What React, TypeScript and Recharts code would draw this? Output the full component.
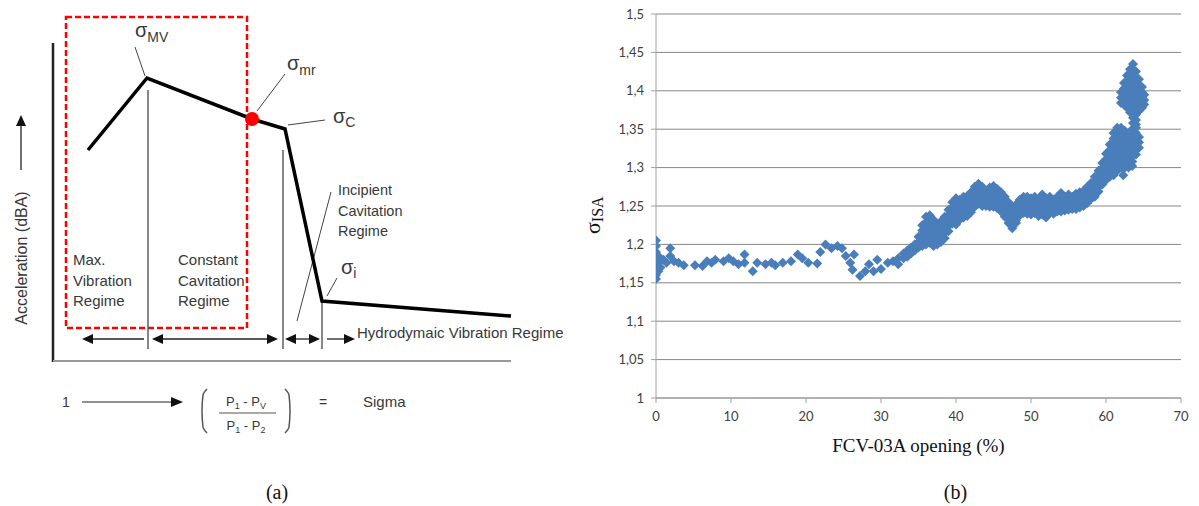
import React from 'react';
import {
  ComposedChart,
  Line,
  Scatter,
  ScatterChart,
  XAxis,
  YAxis,
  CartesianGrid,
  ReferenceLine,
  ReferenceArea,
  ReferenceDot,
} from 'recharts';

const SANS = '"Liberation Sans", Arial, sans-serif';
const SERIF = '"Liberation Serif", "Times New Roman", serif';
const TEXT = '#383838';

// ---------------- (a) schematic, in drawing units (y grows downward)
const accelCurve = [
  { x: 88, y: 150 },
  { x: 147, y: 78 },
  { x: 252, y: 119 },
  { x: 285, y: 129 },
  { x: 322, y: 301 },
  { x: 511, y: 316 },
];
const sigmaMrPoint = [{ x: 252, y: 119 }];
const regimeDividers = [
  { x: 148, top: 90 },
  { x: 283, top: 150 },
  { x: 322, top: 302 },
];
const regimeSpans = [
  { from: 82, to: 146, start: true, end: false },
  { from: 152, to: 278, start: true, end: true },
  { from: 285, to: 320, start: true, end: true },
  { from: 325, to: 355, start: false, end: true },
];
const leftBracket = [
  { x: 207, y: 389 }, { x: 203, y: 395 }, { x: 202, y: 411 }, { x: 203, y: 427 }, { x: 207, y: 433 },
];
const rightBracket = [
  { x: 285, y: 389 }, { x: 289, y: 395 }, { x: 290, y: 411 }, { x: 289, y: 427 }, { x: 285, y: 433 },
];

const SPAN_Y = 339;
const regimeHeads = regimeSpans.flatMap((s) => [
  ...(s.start ? [{ x: s.from, y: SPAN_Y, dir: 'left' }] : []),
  ...(s.end ? [{ x: s.to, y: SPAN_Y, dir: 'right' }] : []),
]);

// ---------------- (b) sigma_ISA vs FCV-03A opening (%), [opening, sigma values]
const openStart: [number, number[]][] = [
  [0, [1.205, 1.198, 1.19, 1.182, 1.175, 1.168, 1.16, 1.155]],
  [0.3, [1.185, 1.165]],
  [0.6, [1.178, 1.17]],
  [1.0, [1.18]],
  [1.4, [1.176]],
  [1.9, [1.195, 1.185]],
  [2.4, [1.178]],
  [3.0, [1.176]],
  [3.7, [1.173]],
];
const openLow: [number, number[]][] = [
  [5.2, [1.173]], [6.2, [1.172]], [6.8, [1.178]], [7.4, [1.176]], [7.9, [1.18]],
  [9.0, [1.178]], [9.7, [1.182]], [10.3, [1.178]], [11.0, [1.174]], [11.8, [1.187, 1.176]],
  [12.9, [1.165]], [13.5, [1.176]], [14.6, [1.174]], [15.4, [1.176]], [15.9, [1.173]],
  [16.9, [1.176]], [18.0, [1.178]], [18.9, [1.187]], [19.5, [1.182]], [20.3, [1.176]],
  [21.5, [1.175]], [21.9, [1.19]], [22.6, [1.2]], [23.4, [1.195]], [24.2, [1.198]],
  [24.8, [1.195]], [25.3, [1.185]], [25.9, [1.176]], [26.4, [1.187]], [26.2, [1.167]],
  [27.2, [1.159]], [27.9, [1.165]], [28.4, [1.174]], [29.0, [1.165]], [29.5, [1.18]],
  [30.0, [1.168]], [30.9, [1.176]],
];
const openRise: [number, number[]][] = [
  [31.6, [1.178]], [32.3, [1.182, 1.174]], [33.0, [1.188, 1.182]], [33.5, [1.192, 1.184]],
  [34.0, [1.196, 1.188]], [34.5, [1.2, 1.192]], [35.0, [1.21, 1.203, 1.196]],
  [35.5, [1.225, 1.218, 1.211, 1.204, 1.198]],
  [36.0, [1.236, 1.229, 1.222, 1.215, 1.208, 1.2]],
  [36.5, [1.238, 1.231, 1.224, 1.217, 1.21, 1.202]],
  [37.0, [1.232, 1.225, 1.218, 1.211, 1.204, 1.198]],
  [37.5, [1.226, 1.219, 1.212, 1.205, 1.2]],
  [38.0, [1.23, 1.223, 1.216, 1.209, 1.203]],
  [38.5, [1.236, 1.229, 1.222, 1.215, 1.208]],
  [39.0, [1.245, 1.238, 1.231, 1.224, 1.217]],
  [39.5, [1.255, 1.248, 1.241, 1.234, 1.227]],
];
const openPlateau: [number, number[]][] = [
  [40.0, [1.26, 1.253, 1.246, 1.239, 1.232, 1.226]],
  [40.5, [1.258, 1.251, 1.244, 1.237, 1.232]],
  [41.0, [1.262, 1.255, 1.248, 1.241, 1.235]],
  [41.5, [1.263, 1.256, 1.249, 1.242, 1.237]],
  [42.0, [1.268, 1.261, 1.254, 1.247, 1.242]],
  [42.5, [1.275, 1.268, 1.261, 1.254, 1.249]],
  [43.0, [1.279, 1.272, 1.265, 1.258, 1.253]],
  [43.5, [1.275, 1.268, 1.261, 1.255, 1.25]],
  [44.0, [1.27, 1.263, 1.256, 1.25]],
  [44.5, [1.274, 1.267, 1.26, 1.254, 1.249]],
  [45.0, [1.276, 1.269, 1.262, 1.255, 1.249]],
  [45.5, [1.272, 1.265, 1.258, 1.251, 1.247]],
  [46.0, [1.268, 1.261, 1.254, 1.247, 1.243]],
  [46.5, [1.262, 1.255, 1.248, 1.241, 1.236]],
  [47.0, [1.255, 1.248, 1.241, 1.234, 1.228]],
  [47.5, [1.248, 1.241, 1.234, 1.227, 1.221]],
  [48.0, [1.252, 1.245, 1.238, 1.231, 1.228]],
  [48.5, [1.258, 1.251, 1.244, 1.238]],
  [49.0, [1.262, 1.255, 1.248, 1.241]],
  [49.5, [1.262, 1.255, 1.248, 1.24]],
  [50.0, [1.26, 1.253, 1.246, 1.239]],
  [50.5, [1.262, 1.255, 1.248, 1.241]],
  [51.0, [1.258, 1.251, 1.244, 1.237]],
  [51.5, [1.265, 1.258, 1.251, 1.244, 1.239]],
  [52.0, [1.26, 1.253, 1.246, 1.239, 1.235]],
  [52.5, [1.262, 1.255, 1.248, 1.241]],
  [53.0, [1.258, 1.251, 1.245, 1.24]],
  [53.5, [1.262, 1.255, 1.248, 1.243]],
  [54.0, [1.267, 1.26, 1.253, 1.246, 1.243]],
  [54.5, [1.262, 1.255, 1.249, 1.244]],
  [55.0, [1.265, 1.258, 1.251, 1.245]],
  [55.5, [1.262, 1.256, 1.25, 1.246]],
  [56.0, [1.266, 1.259, 1.252, 1.246]],
  [56.5, [1.268, 1.261, 1.254, 1.248]],
];
const openTurn: [number, number[]][] = [
  [57.0, [1.27, 1.263, 1.256, 1.25]],
  [57.5, [1.275, 1.268, 1.261, 1.254]],
  [58.0, [1.28, 1.273, 1.266, 1.259]],
  [58.5, [1.288, 1.281, 1.274, 1.267, 1.262]],
  [59.0, [1.296, 1.289, 1.282, 1.275, 1.269]],
  [59.5, [1.306, 1.299, 1.292, 1.285, 1.278]],
  [60.0, [1.318, 1.311, 1.304, 1.297, 1.29, 1.284]],
  [60.5, [1.33, 1.323, 1.316, 1.309, 1.302, 1.295, 1.288]],
  [61.0, [1.345, 1.338, 1.331, 1.324, 1.317, 1.31, 1.303, 1.296, 1.29]],
  [61.5, [1.352, 1.345, 1.338, 1.331, 1.324, 1.317, 1.31, 1.303, 1.296]],
  [62.0, [1.352, 1.345, 1.338, 1.331, 1.324, 1.317, 1.31, 1.304]],
  [62.3, [1.298, 1.29]],
  [62.5, [1.348, 1.341, 1.334, 1.327, 1.32, 1.313, 1.306]],
  [63.0, [1.342, 1.335, 1.328, 1.321, 1.314, 1.307, 1.3]],
  [63.5, [1.35, 1.343, 1.336, 1.329, 1.322, 1.315, 1.308, 1.302]],
  [64.0, [1.352, 1.345, 1.338, 1.331, 1.324, 1.317]],
  [64.4, [1.34, 1.333, 1.326]],
];
const openPeak: [number, number[]][] = [
  [62.0, [1.398, 1.391, 1.384]],
  [62.4, [1.41, 1.403, 1.396, 1.389, 1.382]],
  [62.8, [1.42, 1.413, 1.406, 1.399, 1.392, 1.385, 1.378]],
  [63.2, [1.428, 1.421, 1.414, 1.407, 1.4, 1.393, 1.386, 1.379, 1.372]],
  [63.6, [1.435, 1.428, 1.421, 1.414, 1.407, 1.4, 1.393, 1.386, 1.379, 1.372, 1.365, 1.358]],
  [64.0, [1.425, 1.418, 1.411, 1.404, 1.397, 1.39, 1.383, 1.376, 1.369, 1.362, 1.356]],
  [64.4, [1.415, 1.408, 1.401, 1.394, 1.387, 1.38, 1.374]],
  [64.8, [1.405, 1.398, 1.391, 1.384, 1.378]],
  [65.1, [1.395, 1.388, 1.382]],
];

const xTicks = [0, 10, 20, 30, 40, 50, 60, 70];
const yTicks = [1, 1.05, 1.1, 1.15, 1.2, 1.25, 1.3, 1.35, 1.4, 1.45, 1.5];

const sigmaPoints = [openStart, openLow, openRise, openPlateau, openTurn, openPeak].flatMap((part) =>
  part.flatMap(([x, ys]) => ys.map((y) => ({ x, y })))
);

// ---------------- shapes
const head = (dir: string, len: number, half: number) => (p: any) => {
  const { cx, cy } = p;
  let pts = '';
  if (dir === 'left') pts = `${cx},${cy} ${cx + len},${cy - half} ${cx + len},${cy + half}`;
  else if (dir === 'right') pts = `${cx},${cy} ${cx - len},${cy - half} ${cx - len},${cy + half}`;
  else pts = `${cx},${cy} ${cx - half},${cy + len} ${cx + half},${cy + len}`;
  return <polygon points={pts} fill="#111" />;
};

const note = (lines: string[], size = 15, lh = 20.5) => (p: any) => (
  <text x={p.cx} y={p.cy} fontSize={size} fill={TEXT} fontFamily={SANS}>
    {lines.map((l, i) => (
      <tspan key={i} x={p.cx} dy={i === 0 ? 0 : lh}>
        {l}
      </tspan>
    ))}
  </text>
);

const sigmaLabel = (sub: string, dy = 5) => (p: any) => (
  <text x={p.cx} y={p.cy} fontSize={20} fill={TEXT} fontFamily={SANS}>
    σ
    <tspan fontSize={14} dy={dy}>
      {sub}
    </tspan>
  </text>
);

const pressure = (a: string, b: string) => (p: any) => (
  <text x={p.cx} y={p.cy} fontSize={13} fill={TEXT} fontFamily={SANS} textAnchor="middle">
    P<tspan fontSize={9} dy={3}>{a}</tspan>
    <tspan dy={-3}> - P</tspan>
    <tspan fontSize={9} dy={3}>{b}</tspan>
  </text>
);

const Diamond = (p: any) => {
  const { cx, cy } = p;
  const r = 5;
  return <path d={`M${cx},${cy - r}L${cx + r},${cy}L${cx},${cy + r}L${cx - r},${cy}Z`} fill="#4a7ebb" />;
};

const leader = { stroke: '#444', strokeWidth: 1 };

function SchematicPanel() {
  return (
    <ComposedChart width={570} height={506} margin={{ top: 0, right: 0, bottom: 0, left: 0 }}>
      <XAxis type="number" dataKey="x" domain={[0, 570]} allowDataOverflow hide />
      <YAxis type="number" dataKey="y" domain={[0, 506]} allowDataOverflow reversed hide />

      <ReferenceArea x1={66} x2={247} y1={17} y2={328} fill="none" stroke="#ff0000" strokeWidth={2.5} strokeDasharray="6 3" />

      {/* axes of the schematic */}
      <ReferenceLine segment={[{ x: 53, y: 43 }, { x: 53, y: 362 }]} stroke="#222" strokeWidth={2.5} />
      <ReferenceLine segment={[{ x: 53, y: 361 }, { x: 511, y: 361 }]} stroke="#999" strokeWidth={2} />

      {regimeDividers.map((d) => (
        <ReferenceLine key={d.x} segment={[{ x: d.x, y: d.top }, { x: d.x, y: 349 }]} stroke="#555" strokeWidth={1.4} />
      ))}
      {regimeSpans.map((s) => (
        <ReferenceLine key={s.from} segment={[{ x: s.from + 2, y: SPAN_Y }, { x: s.to - 2, y: SPAN_Y }]} stroke="#222" strokeWidth={1.3} />
      ))}
      <Scatter data={regimeHeads} shape={(p: any) => head(p.payload.dir, 11, 5)(p)} isAnimationActive={false} />

      {/* leaders */}
      <ReferenceLine segment={[{ x: 135, y: 47 }, { x: 145, y: 76 }]} {...leader} />
      <ReferenceLine segment={[{ x: 285, y: 74 }, { x: 257, y: 111 }]} {...leader} />
      <ReferenceLine segment={[{ x: 325, y: 120 }, { x: 288, y: 125 }]} {...leader} />
      <ReferenceLine segment={[{ x: 331, y: 192 }, { x: 297, y: 321 }]} {...leader} />
      <ReferenceLine segment={[{ x: 337, y: 278 }, { x: 327, y: 296 }]} {...leader} />

      <Line data={accelCurve} dataKey="y" type="linear" stroke="#000" strokeWidth={3.5} dot={false} activeDot={false} isAnimationActive={false} />
      <Scatter data={sigmaMrPoint} fill="#ff0000" shape={(p: any) => <circle cx={p.cx} cy={p.cy} r={7} fill="#ff0000" />} isAnimationActive={false} />

      {/* y arrow + title */}
      <ReferenceLine segment={[{ x: 21, y: 170 }, { x: 21, y: 124 }]} stroke="#222" strokeWidth={1.3} />
      <ReferenceDot x={21} y={115} shape={head('up', 11, 5)} />
      <ReferenceDot
        x={21}
        y={258}
        shape={(p: any) => (
          <text x={p.cx} y={p.cy} transform={`rotate(-90 ${p.cx} ${p.cy})`} textAnchor="middle" dominantBaseline="central" fontSize={16} fill={TEXT} fontFamily={SANS}>
            Acceleration (dBA)
          </text>
        )}
      />

      {/* sigma labels */}
      <ReferenceDot x={135} y={37} shape={sigmaLabel('MV')} />
      <ReferenceDot x={287} y={70} shape={sigmaLabel('mr')} />
      <ReferenceDot x={333} y={123} shape={sigmaLabel('C', 4)} />
      <ReferenceDot x={341} y={274} shape={sigmaLabel('i', 4)} />

      {/* regime notes */}
      <ReferenceDot x={73} y={265} shape={note(['Max.', 'Vibration', 'Regime'])} />
      <ReferenceDot x={178} y={265} shape={note(['Constant', 'Cavitation', 'Regime'])} />
      <ReferenceDot x={338} y={195} shape={note(['Incipient', 'Cavitation', 'Regime'], 14.5, 20.5)} />
      <ReferenceDot x={357} y={338} shape={note(['Hydrodymaic Vibration Regime'])} />

      {/* sigma definition */}
      <ReferenceDot x={62} y={407} shape={note(['1'], 14)} />
      <ReferenceLine segment={[{ x: 82, y: 402 }, { x: 172, y: 402 }]} stroke="#222" strokeWidth={1.2} />
      <ReferenceDot x={183} y={402} shape={head('right', 12, 5)} />
      <Line data={leftBracket} dataKey="y" type="monotoneY" stroke="#555" strokeWidth={1.5} dot={false} activeDot={false} isAnimationActive={false} />
      <Line data={rightBracket} dataKey="y" type="monotoneY" stroke="#555" strokeWidth={1.5} dot={false} activeDot={false} isAnimationActive={false} />
      <ReferenceDot x={246} y={406} shape={pressure('1', 'V')} />
      <ReferenceLine segment={[{ x: 219, y: 413 }, { x: 276, y: 413 }]} stroke="#555" strokeWidth={1} />
      <ReferenceDot x={246} y={430} shape={pressure('1', '2')} />
      <ReferenceDot x={319} y={407} shape={note(['='], 14)} />
      <ReferenceDot x={363} y={407} shape={note(['Sigma'], 15)} />

      <ReferenceDot
        x={277}
        y={499}
        shape={(p: any) => (
          <text x={p.cx} y={p.cy} textAnchor="middle" fontSize={20} fill="#111" fontFamily={SERIF}>
            (a)
          </text>
        )}
      />
    </ComposedChart>
  );
}

const commaFmt = (v: number) => String(v).replace('.', ',');

const xTitle = (p: any) => {
  const { x, y, width } = p.viewBox;
  const cx = x + width / 2;
  return (
    <g>
      <text x={cx} y={y + 54} textAnchor="middle" fontSize={19} fill="#111" fontFamily={SERIF}>
        FCV-03A opening (%)
      </text>
      <text x={cx + 37} y={y + 101} textAnchor="middle" fontSize={20} fill="#111" fontFamily={SERIF}>
        (b)
      </text>
    </g>
  );
};

const yTitle = () => {
  const tx = 40;
  const ty = 234;
  return (
    <text x={tx} y={ty} transform={`rotate(-90 ${tx} ${ty})`} fill="#111" fontFamily={SERIF}>
      <tspan fontSize={22}>σ</tspan>
      <tspan fontSize={16} dy={3}>
        ISA
      </tspan>
    </text>
  );
};

function OpeningPanel() {
  const tickStyle = { fill: '#404040', fontSize: 13, fontFamily: 'Lato, sans-serif' };
  return (
    <ScatterChart width={639} height={506} margin={{ top: 14, right: 18, bottom: 78, left: 46 }}>
      <CartesianGrid vertical={false} stroke="#878787" />
      <XAxis
        type="number"
        dataKey="x"
        domain={[0, 70]}
        ticks={xTicks}
        allowDataOverflow
        stroke="#a0a0a0"
        tick={tickStyle}
        tickSize={5}
        tickMargin={9}
        height={30}
        label={{ content: xTitle }}
      />
      <YAxis
        type="number"
        dataKey="y"
        domain={[1, 1.5]}
        ticks={yTicks}
        allowDataOverflow
        tickFormatter={commaFmt}
        stroke="#a0a0a0"
        tick={tickStyle}
        tickSize={5}
        tickMargin={7}
        width={50}
        label={{ content: yTitle }}
      />
      <Scatter data={sigmaPoints} shape={Diamond} isAnimationActive={false} />
    </ScatterChart>
  );
}

export default function App() {
  return (
    <div style={{ position: 'absolute', left: 0, top: 0, width: 1199, height: 506, background: '#fff' }}>
      <div style={{ position: 'absolute', left: 0, top: 0 }}>
        <SchematicPanel />
      </div>
      <div style={{ position: 'absolute', left: 560, top: 0 }}>
        <OpeningPanel />
      </div>
    </div>
  );
}
